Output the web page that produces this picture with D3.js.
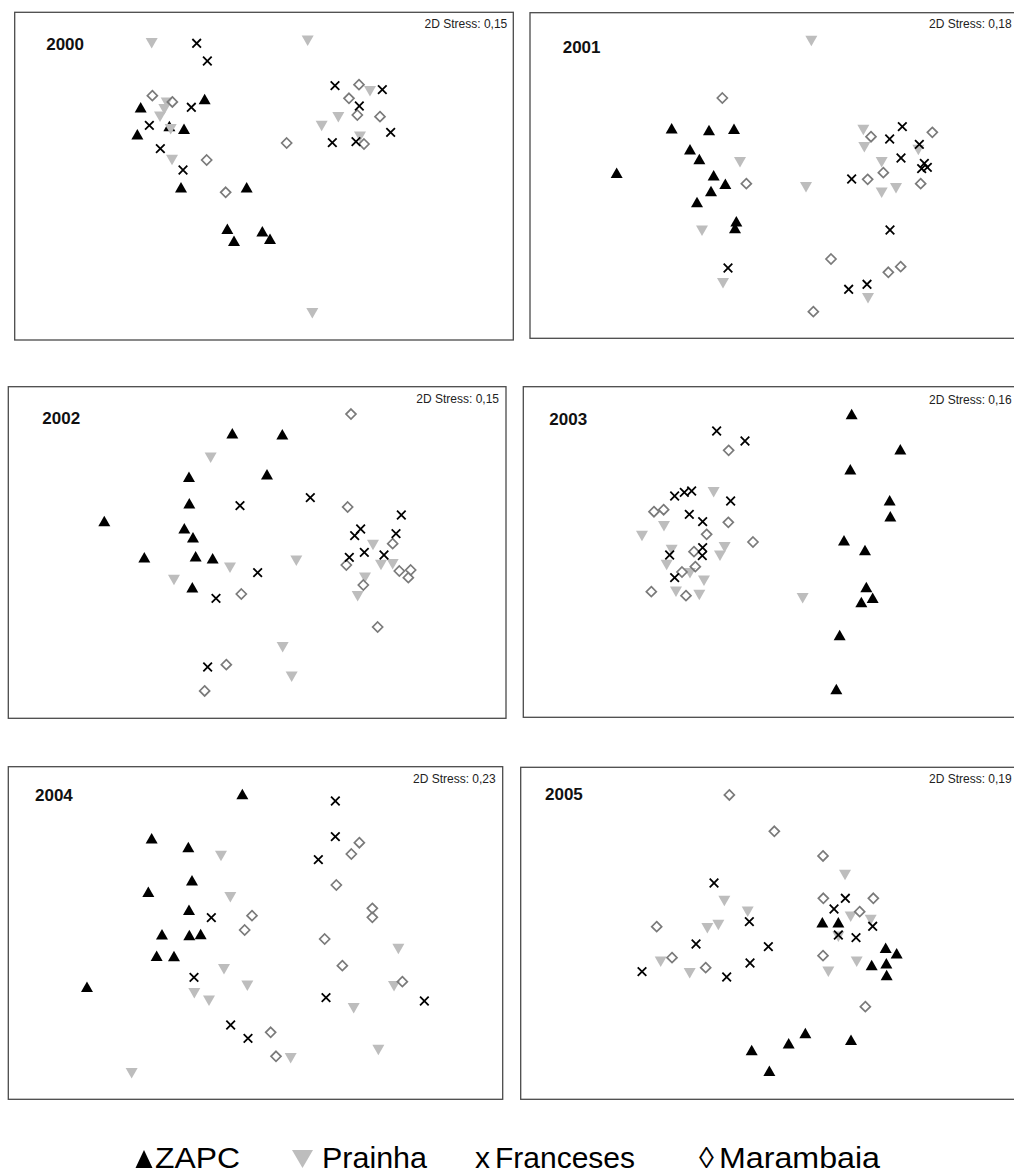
<!DOCTYPE html>
<html>
<head>
<meta charset="utf-8">
<script src="https://d3js.org/d3.v7.min.js"></script>
<style>
  body { margin: 0; background: #fff; }
  svg { display: block; }
  text { font-family: Arial, "Liberation Sans", Helvetica, sans-serif; }
</style>
</head>
<body>
<div id="chart"></div>
<script>
// nMDS plots, one per year
const years = ['2000', '2001', '2002', '2003', '2004', '2005'];
const stressValues = ['0,15', '0,18', '0,15', '0,16', '0,23', '0,19'];
const groups = ['ZAPC', 'Prainha', 'Franceses', 'Marambaia'];

// ordination scores (arbitrary units, axis 2 grows downward)
const zapc2000 = [[422,322],[614,297],[412,403],[508,378],[552,386],[543,562],[740,562],[682,686],[702,722],[787,694],[810,716]];
const prainha2000 = [[455,130],[923,122],[500,308],[493,328],[480,350],[512,388],[516,480],[965,378],[1015,352],[1110,274],[1080,410],[937,940]];
const franceses2000 = [[590,130],[622,183],[574,322],[448,376],[481,446],[549,510],[1005,257],[1147,269],[1078,318],[1172,397],[997,428],[1068,425]];
const marambaia2000 = [[457,287],[517,306],[620,480],[677,577],[860,429],[1077,254],[1047,295],[1072,345],[1140,350],[1092,432]];

const zapc2001 = [[290,518],[455,385],[567,390],[642,386],[510,448],[538,477],[581,526],[616,551],[573,573],[531,606],[649,664],[645,684]];
const prainha2001 = [[874,123],[660,487],[858,562],[546,692],[609,850],[1030,390],[1033,442],[1085,487],[1195,450],[1085,578],[1128,565],[1044,895]];
const franceses2001 = [[1147,380],[1109,417],[1198,433],[1143,474],[995,537],[1213,490],[1205,506],[1222,502],[1110,690],[624,804],[986,868],[1041,853]];
const marambaia2001 = [[607,294],[679,551],[1053,410],[1237,397],[1090,518],[1043,538],[1202,551],[933,777],[1105,817],[1142,800],[880,935]];

const zapc2002 = [[697,145],[847,148],[567,275],[801,268],[568,355],[313,408],[553,430],[579,457],[433,517],[587,514],[638,520],[577,607]];
const prainha2002 = [[632,218],[690,548],[522,585],[889,527],[1119,480],[1143,540],[1178,538],[1095,578],[1073,634],[848,787],[875,875]];
const franceses2002 = [[720,362],[931,338],[1204,390],[1082,432],[1064,452],[1188,446],[1093,502],[1152,510],[1048,517],[773,563],[648,640],[623,846]];
const marambaia2002 = [[1053,87],[1043,366],[1178,476],[1039,540],[1198,558],[1232,555],[1225,578],[1090,600],[724,627],[1133,726],[679,839],[614,918]];

const zapc2003 = [[1010,87],[1156,193],[1006,253],[1124,346],[1126,394],[987,466],[1050,495],[1054,606],[1073,638],[1039,651],[974,750],[964,912]];
const prainha2003 = [[596,322],[447,424],[381,453],[629,487],[615,512],[470,495],[455,540],[525,565],[567,587],[483,620],[553,630],[863,640]];
const franceses2003 = [[605,138],[690,168],[479,333],[508,322],[530,318],[647,348],[523,388],[563,410],[563,488],[562,512],[464,510],[479,578]];
const marambaia2003 = [[641,196],[417,380],[446,374],[640,412],[575,448],[714,471],[537,500],[541,545],[501,561],[409,620],[513,632]];

const zapc2004 = [[727,87],[455,220],[565,246],[576,346],[445,380],[567,434],[486,508],[568,510],[602,507],[470,572],[522,573],[261,665]];
const prainha2004 = [[663,273],[691,397],[1195,552],[672,613],[742,662],[1182,664],[583,685],[627,707],[1061,730],[1135,855],[872,880],[395,925]];
const franceses2004 = [[1006,108],[1006,215],[955,284],[634,458],[582,637],[978,698],[1273,708],[692,780],[744,820]];
const marambaia2004 = [[1078,233],[1054,267],[1009,360],[1117,430],[1117,457],[756,452],[734,495],[974,522],[1027,602],[1207,650],[812,802],[828,874]];

const zapc2005 = [[922,472],[970,472],[1112,548],[1145,565],[1070,600],[1114,595],[1115,630],[871,804],[821,835],[710,855],[763,917],[1008,824]];
const prainha2005 = [[990,330],[628,408],[698,440],[610,480],[577,490],[1007,455],[1067,465],[970,515],[437,590],[524,625],[1025,590],[940,620]];
const franceses2005 = [[597,354],[991,400],[957,432],[703,470],[1073,484],[970,510],[1023,518],[543,537],[760,545],[705,594],[381,620],[635,636]];
const marambaia2005 = [[643,90],[778,199],[924,273],[925,400],[1075,400],[1034,440],[425,485],[471,578],[572,608],[924,572],[1051,725]];

const scores = {
  '2000': { ZAPC: zapc2000, Prainha: prainha2000, Franceses: franceses2000, Marambaia: marambaia2000 },
  '2001': { ZAPC: zapc2001, Prainha: prainha2001, Franceses: franceses2001, Marambaia: marambaia2001 },
  '2002': { ZAPC: zapc2002, Prainha: prainha2002, Franceses: franceses2002, Marambaia: marambaia2002 },
  '2003': { ZAPC: zapc2003, Prainha: prainha2003, Franceses: franceses2003, Marambaia: marambaia2003 },
  '2004': { ZAPC: zapc2004, Prainha: prainha2004, Franceses: franceses2004, Marambaia: marambaia2004 },
  '2005': { ZAPC: zapc2005, Prainha: prainha2005, Franceses: franceses2005, Marambaia: marambaia2005 }
};

// panel boxes (px) and the score extent each box shows
const layout = [
  { box: [14.7, 513.3, 12.3, 340],   ext: [44, 1540, 37, 1020],  label: [31.5, 37.4], stress: [6, 16] },
  { box: [530, 1018, 12.7, 338.3],   ext: [30, 1494, 38, 1015],  label: [32.7, 40],   stress: [6.3, 15.6] },
  { box: [8.3, 506, 386.7, 718.3],   ext: [25, 1518, 5, 1000],   label: [34, 37],     stress: [7, 16] },
  { box: [523.3, 1018, 386.7, 717.3], ext: [25, 1509, 5, 997],   label: [26, 38],     stress: [6.3, 17] },
  { box: [8.3, 502.7, 766.7, 1099.3], ext: [25, 1508, 5, 1003],  label: [26.7, 34],   stress: [7, 16.6] },
  { box: [520.7, 1018, 767.3, 1099.3], ext: [17, 1509, 7, 1003], label: [24.3, 32.4], stress: [6.3, 16] }
];

const W = 1014, H = 1174;
const svg = d3.select('#chart').append('svg')
  .attr('width', W)
  .attr('height', H);

const triUp = (w, h) => `M0,${-h / 2}L${w / 2},${h / 2}L${-w / 2},${h / 2}Z`;
const triDown = (w, h) => `M0,${h / 2}L${w / 2},${-h / 2}L${-w / 2},${-h / 2}Z`;

years.forEach((year, i) => {
  const L = layout[i];
  const [bx0, bx1, by0, by1] = L.box;
  const x = d3.scaleLinear().domain([L.ext[0], L.ext[1]]).range([bx0, bx1]);
  const y = d3.scaleLinear().domain([L.ext[2], L.ext[3]]).range([by0, by1]);
  const g = svg.append('g');
  const data = scores[year];

  g.append('rect')
    .attr('x', bx0).attr('y', by0)
    .attr('width', bx1 - bx0).attr('height', by1 - by0)
    .attr('fill', '#fff')
    .attr('stroke', '#4a4a4a')
    .attr('stroke-width', 1.3);

  g.append('text')
    .attr('x', bx0 + L.label[0])
    .attr('y', by0 + L.label[1])
    .attr('font-size', 17)
    .attr('font-weight', 'bold')
    .attr('fill', '#111')
    .text(year);

  g.append('text')
    .attr('x', bx1 - L.stress[0])
    .attr('y', by0 + L.stress[1])
    .attr('text-anchor', 'end')
    .attr('font-size', 12)
    .attr('fill', '#222')
    .text('2D Stress: ' + stressValues[i]);

  // ZAPC
  g.selectAll('.zapc').data(data.ZAPC).enter().append('path')
    .attr('transform', d => `translate(${x(d[0])},${y(d[1])})`)
    .attr('d', triUp(12, 10.5))
    .attr('fill', '#000');

  // Prainha
  g.selectAll('.prainha').data(data.Prainha).enter().append('path')
    .attr('transform', d => `translate(${x(d[0])},${y(d[1])})`)
    .attr('d', triDown(12, 10.5))
    .attr('fill', '#bdbdbd');

  // Marambaia
  g.selectAll('.marambaia').data(data.Marambaia).enter().append('path')
    .attr('transform', d => `translate(${x(d[0])},${y(d[1])})`)
    .attr('d', 'M0,-5L5,0L0,5L-5,0Z')
    .attr('fill', 'none')
    .attr('stroke', '#7a7a7a')
    .attr('stroke-width', 1.7);

  // Franceses
  g.selectAll('.franceses').data(data.Franceses).enter().append('path')
    .attr('transform', d => `translate(${x(d[0])},${y(d[1])})`)
    .attr('d', 'M-4.3,-4.3L4.3,4.3M-4.3,4.3L4.3,-4.3')
    .attr('fill', 'none')
    .attr('stroke', '#000')
    .attr('stroke-width', 1.8);
});

// legend
const leg = svg.append('g');
const legBase = 1168;
const legText = (x0, len, s) => {
  const t = leg.append('text').attr('x', x0).attr('y', legBase).attr('font-size', 30).text(s);
  if (len) t.attr('textLength', len).attr('lengthAdjust', 'spacingAndGlyphs');
  return t;
};
leg.append('path')
  .attr('transform', `translate(144,${legBase - 9})`)
  .attr('d', triUp(17, 18))
  .attr('fill', '#000');
legText(155, 85, groups[0]);
leg.append('path')
  .attr('transform', `translate(302.5,${legBase - 9})`)
  .attr('d', triDown(21, 18))
  .attr('fill', '#bdbdbd');
legText(322, 105, groups[1]);
legText(475, 0, 'x');
legText(495, 140, groups[2]);
legText(699, 0, '\u25CA');
legText(719, 161, groups[3]);
</script>
</body>
</html>
